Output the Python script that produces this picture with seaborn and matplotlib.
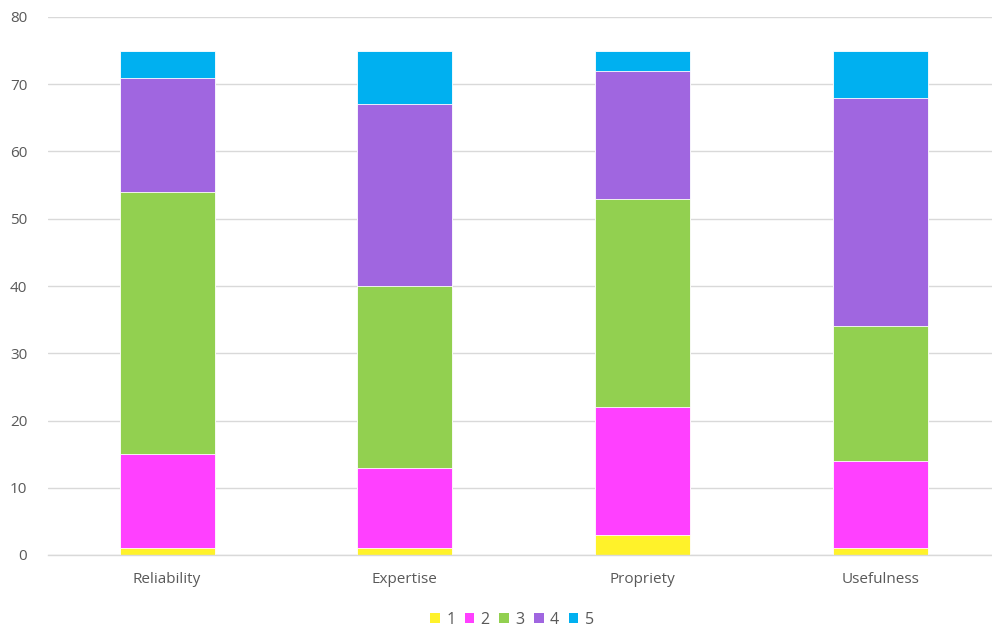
import matplotlib
matplotlib.use("Agg")
import matplotlib.pyplot as plt
import seaborn as sns
import pandas as pd
import numpy as np
from matplotlib.patches import Patch

categories = ["Reliability", "Expertise", "Propriety", "Usefulness"]
levels = ["1", "2", "3", "4", "5"]
score_1 = [1, 1, 3, 1]
score_2 = [14, 12, 19, 13]
score_3 = [39, 27, 31, 20]
score_4 = [17, 27, 19, 34]
score_5 = [4, 8, 3, 7]
colors = ["#FFF22A", "#FF40FF", "#92D050", "#A066E0", "#00B0F0"]

series = [score_1, score_2, score_3, score_4, score_5]
cum = np.cumsum(np.array(series), axis=0)

sns.set_theme(style="white")
plt.rcParams["font.family"] = ["Open Sans", "DejaVu Sans"]

fig = plt.figure(figsize=(9.92, 6.30), dpi=100)
ax = fig.add_axes([48.2 / 992, 75 / 630, 950.7 / 992, 538 / 630])

# stacked bars: draw cumulative totals from the top level down so each
# lower level covers the part of the bar below its upper bound
for i in reversed(range(len(levels))):
    df = pd.DataFrame({"category": categories, "value": cum[i]})
    sns.barplot(data=df, x="category", y="value", color=colors[i],
                width=0.4, saturation=1, ax=ax, edgecolor="white",
                linewidth=0.6, zorder=2)

ax.set_ylim(0, 80)
ax.set_yticks(range(0, 81, 10))
ax.set_xlim(-0.5, 3.5)
ax.yaxis.grid(True, color="#D9D9D9", linewidth=1, zorder=0)
ax.set_axisbelow(True)
for s in ["top", "right", "left"]:
    ax.spines[s].set_visible(False)
ax.spines["bottom"].set_color("#D9D9D9")
ax.spines["bottom"].set_linewidth(1)
ax.set_xlabel("")
ax.set_ylabel("")
ax.tick_params(axis="both", length=0, labelsize=11, colors="#595959")
ax.tick_params(axis="x", pad=12)
ax.tick_params(axis="y", pad=15)

handles = [Patch(facecolor=c, edgecolor="none") for c in colors]
fig.legend(handles, levels, loc="center", bbox_to_anchor=(512 / 992, 10 / 630),
           ncol=5, frameon=False, fontsize=11.5, handlelength=0.6, handleheight=0.6,
           handletextpad=0.4, columnspacing=0.6, labelcolor="#595959")

fig.savefig("out.png", dpi=100)
